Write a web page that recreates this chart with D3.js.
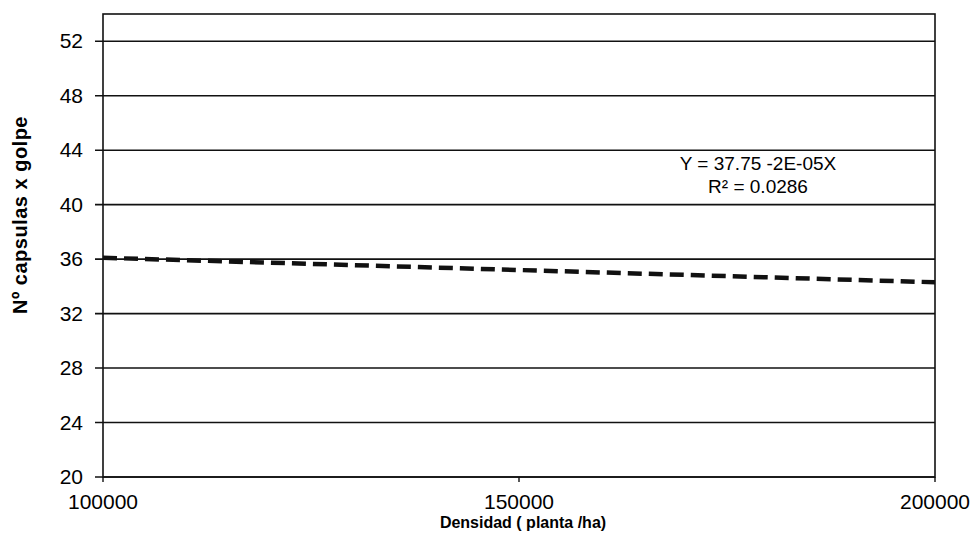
<!DOCTYPE html>
<html>
<head>
<meta charset="utf-8">
<script src="https://cdn.jsdelivr.net/npm/d3@7/dist/d3.min.js"></script>
<style>
  body{margin:0;background:#fff;}
  svg text{font-family:"Liberation Sans",Arial,sans-serif;fill:#000;}
</style>
</head>
<body>
<svg id="chart" width="975" height="540"></svg>
<script>
// valores
const xTicks   = [100000, 150000, 200000];
const yTicks   = [20, 24, 28, 32, 36, 40, 44, 48, 52];
const trendX   = [100000, 200000];
const trendY   = [36.1, 34.3];
const eqLines  = ["Y = 37.75 -2E-05X", "R\u00b2 = 0.0286"];
const xTitle   = "Densidad ( planta /ha)";
const yTitle   = "N\u00ba capsulas x golpe";

const svg = d3.select("#chart");
const L=103, R=935, T=14, B=477;

const x = d3.scaleLinear().domain([100000,200000]).range([L,R]);
const y = d3.scaleLinear().domain([20,54]).range([B,T]);

// grid
svg.append("g").selectAll("line").data(yTicks).enter().append("line")
  .attr("x1",L-8).attr("x2",R)
  .attr("y1",d=>y(d)).attr("y2",d=>y(d))
  .attr("stroke","#111").attr("stroke-width",1.6);

// plot frame
svg.append("rect").attr("x",L).attr("y",T).attr("width",R-L).attr("height",B-T)
  .attr("fill","none").attr("stroke","#111").attr("stroke-width",1.6);

// y labels
svg.append("g").selectAll("text").data(yTicks).enter().append("text")
  .attr("x",83).attr("y",d=>y(d)+7)
  .attr("text-anchor","end").attr("font-size",21)
  .text(d=>d);

// x ticks + labels
const gx = svg.append("g");
gx.selectAll("line").data(xTicks).enter().append("line")
  .attr("x1",d=>x(d)).attr("x2",d=>x(d))
  .attr("y1",B).attr("y2",B+5)
  .attr("stroke","#111").attr("stroke-width",1.4);
gx.selectAll("text").data(xTicks).enter().append("text")
  .attr("x",d=>x(d)).attr("y",509)
  .attr("text-anchor","middle").attr("font-size",21)
  .text(d=>d);

// axis titles
svg.append("text").attr("x",(L+R)/2+4).attr("y",528)
  .attr("text-anchor","middle").attr("font-size",16).attr("font-weight","bold")
  .text(xTitle);
svg.append("text").attr("transform","translate(27,215) rotate(-90)")
  .attr("text-anchor","middle").attr("font-size",20).attr("font-weight","bold")
  .attr("letter-spacing",0.5)
  .text(yTitle);

// trend line
const line = d3.line().x(d=>x(d[0])).y(d=>y(d[1]));
svg.append("path").datum(d3.zip(trendX,trendY))
  .attr("d",line).attr("fill","none")
  .attr("stroke","#111").attr("stroke-width",4.5)
  .attr("stroke-dasharray","14,7");

// equation
svg.append("g").selectAll("text").data(eqLines).enter().append("text")
  .attr("x",758).attr("y",(d,i)=>170+i*23)
  .attr("text-anchor","middle").attr("font-size",19)
  .text(d=>d);
</script>
</body>
</html>
